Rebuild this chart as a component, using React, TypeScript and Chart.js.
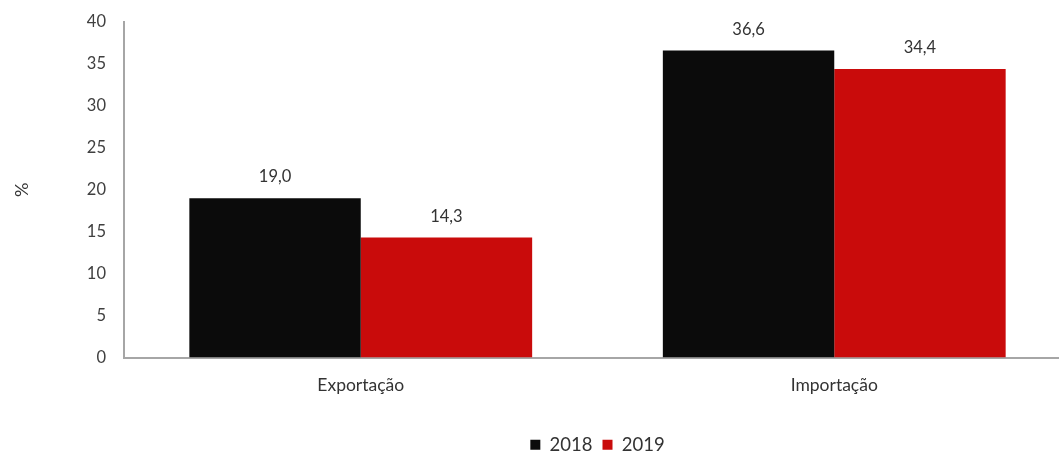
import React, { useEffect, useRef } from "react";
import { Chart, registerables } from "chart.js";

Chart.register(...registerables);

const categories = ["Exportação", "Importação"];
const seriesLabels = ["2018", "2019"];
const values2018 = [19.0, 36.6];
const values2019 = [14.3, 34.4];
const seriesColors = ["#0b0b0b", "#c90b0b"];
const yMin = 0;
const yMax = 40;
const yStep = 5;
const yAxisTitle = "%";

const FONT = "Lato";

const valueLabelPlugin = {
  id: "valueLabels",
  afterDatasetsDraw(chart: any) {
    const ctx = chart.ctx;
    ctx.save();
    ctx.font = `16.5px ${FONT}`;
    ctx.fillStyle = "#333333";
    ctx.textAlign = "center";
    ctx.textBaseline = "bottom";
    chart.data.datasets.forEach((ds: any, i: number) => {
      const meta = chart.getDatasetMeta(i);
      meta.data.forEach((el: any, j: number) => {
        const v = ds.data[j] as number;
        ctx.fillText(v.toFixed(1).replace(".", ","), el.x, el.y - 13);
      });
    });
    ctx.restore();
  },
};

export default function App() {
  const ref = useRef<HTMLCanvasElement | null>(null);

  useEffect(() => {
    if (!ref.current) return;
    const chart = new Chart(ref.current, {
      type: "bar",
      data: {
        labels: categories,
        datasets: [
          { label: seriesLabels[0], data: values2018, backgroundColor: seriesColors[0] },
          { label: seriesLabels[1], data: values2019, backgroundColor: seriesColors[1] },
        ],
      },
      options: {
        responsive: false,
        animation: false,
        devicePixelRatio: 1,
        layout: { padding: { left: 0, right: 9, top: 22, bottom: -13 } },
        datasets: {
          bar: { categoryPercentage: 0.724, barPercentage: 1.0 },
        },
        plugins: {
          legend: {
            position: "bottom",
            fullSize: false,
            labels: {
              boxWidth: 10,
              boxHeight: 10,
              padding: 10,
              color: "#333333",
              font: { family: FONT, size: 18.5 },
            },
          },
          tooltip: { enabled: false },
        },
        scales: {
          x: {
            grid: { display: false, drawTicks: false },
            border: { display: true, color: "#a6a6a6", width: 2 },
            ticks: { color: "#333333", font: { family: FONT, size: 17.5 }, padding: 17 },
            afterFit(scale: any) {
              scale.height += 13;
            },
          },
          y: {
            min: yMin,
            max: yMax,
            grid: { display: false, drawTicks: false },
            border: { display: true, color: "#a6a6a6", width: 2 },
            ticks: { stepSize: yStep, color: "#404040", font: { family: FONT, size: 16.5 }, padding: 18 },
            title: {
              display: true,
              text: yAxisTitle,
              color: "#333333",
              font: { family: FONT, size: 18 },
              padding: { top: 11, bottom: 0 },
            },
            afterFit(scale: any) {
              scale.width = 124;
              scale.paddingTop = 0;
              scale.paddingBottom = 0;
            },
          },
        },
      },
      plugins: [valueLabelPlugin],
    });
    return () => chart.destroy();
  }, []);

  return (
    <div style={{ position: "fixed", left: 0, top: 0, width: 1059, height: 451, overflow: "hidden", background: "#fff" }}>
      <canvas ref={ref} width={1080} height={451} style={{ display: "block", width: 1080, height: 451 }} />
    </div>
  );
}
